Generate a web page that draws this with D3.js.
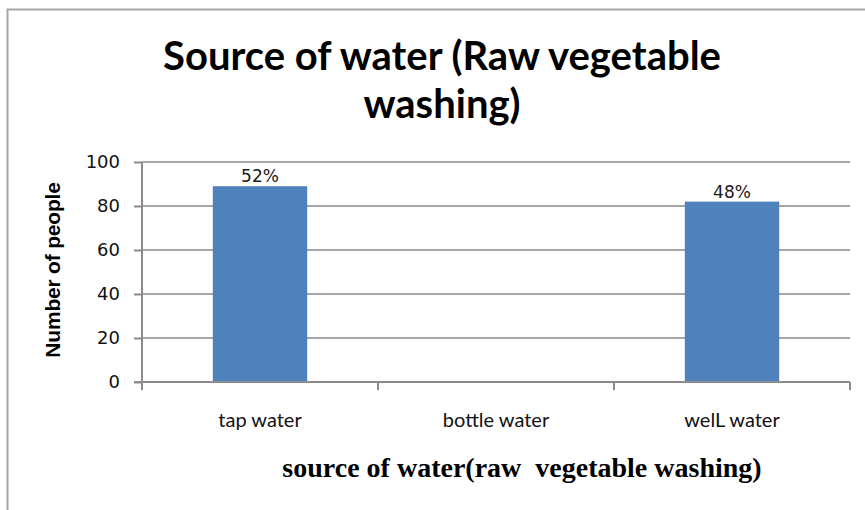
<!DOCTYPE html>
<html>
<head>
<meta charset="utf-8">
<script src="https://cdn.jsdelivr.net/npm/d3@7"></script>
<style>
  html, body { margin: 0; padding: 0; background: #fff; }
  svg { display: block; }
</style>
</head>
<body>
<svg id="chart" width="865" height="510"></svg>
<script>
// Survey results: water source used for washing raw vegetables
const categories = ["tap water", "bottle water", "welL water"];
const people = [89, 0, 82];
const percentLabels = ["52%", "", "48%"];
const yTicks = [0, 20, 40, 60, 80, 100];
const titleLines = ["Source of water (Raw vegetable", "washing)"];
const xTitle = "source of water(raw  vegetable washing)";
const yTitle = "Number of people";

const svg = d3.select("#chart");
const W = 865, H = 510;
const plot = { left: 142, right: 850, top: 162, bottom: 382 };

// chart frame
svg.append("rect")
  .attr("x", 7.5).attr("y", 9.5)
  .attr("width", W + 10).attr("height", H + 10)
  .attr("fill", "#fff")
  .attr("stroke", "#a6a6a6").attr("stroke-width", 2);

const x = d3.scaleBand()
  .domain(categories)
  .range([plot.left, plot.right])
  .paddingInner(0.6)
  .paddingOuter(0.3);

const y = d3.scaleLinear().domain([0, 100]).range([plot.bottom, plot.top]);

// horizontal gridlines
svg.append("g")
  .selectAll("line")
  .data(yTicks.filter(d => d > 0))
  .join("line")
  .attr("x1", plot.left).attr("x2", plot.right)
  .attr("y1", d => y(d)).attr("y2", d => y(d))
  .attr("stroke", "#a6a6a6").attr("stroke-width", 2);

const rows = categories.map((c, i) => ({ c, v: people[i], label: percentLabels[i] }));

// bars
svg.append("g")
  .selectAll("rect")
  .data(rows)
  .join("rect")
  .attr("x", d => x(d.c))
  .attr("width", x.bandwidth())
  .attr("y", d => y(d.v))
  .attr("height", d => y(0) - y(d.v))
  .attr("fill", "#4f81bd");

// value labels
svg.append("g")
  .selectAll("text")
  .data(rows.filter(d => d.label))
  .join("text")
  .attr("x", d => x(d.c) + x.bandwidth() / 2)
  .attr("y", d => y(d.v) - 4)
  .attr("text-anchor", "middle")
  .attr("font-family", "'DejaVu Sans', Verdana, sans-serif")
  .attr("font-size", 17)
  .attr("fill", "#1a1a1a")
  .text(d => d.label);

// y axis
const yAxis = d3.axisLeft(y).tickValues(yTicks).tickSize(8).tickPadding(14);
const gy = svg.append("g").attr("transform", `translate(${plot.left},0)`).call(yAxis);
gy.select(".domain").attr("stroke", "#8c8c8c").attr("stroke-width", 2).attr("d", `M0,${plot.top}V${plot.bottom}`);
gy.selectAll(".tick line").attr("stroke", "#8c8c8c").attr("stroke-width", 2);
gy.selectAll(".tick text")
  .attr("font-family", "'DejaVu Sans', Verdana, sans-serif")
  .attr("font-size", 18).attr("fill", "#111");

// x axis: line plus tick marks at category boundaries
const boundaries = d3.range(categories.length + 1).map(i => plot.left + i * (plot.right - plot.left) / categories.length);
svg.append("line")
  .attr("x1", plot.left - 8).attr("x2", plot.right)
  .attr("y1", plot.bottom).attr("y2", plot.bottom)
  .attr("stroke", "#8c8c8c").attr("stroke-width", 2);
svg.append("g").selectAll("line")
  .data(boundaries)
  .join("line")
  .attr("x1", d => d).attr("x2", d => d)
  .attr("y1", plot.bottom).attr("y2", plot.bottom + 8)
  .attr("stroke", "#8c8c8c").attr("stroke-width", 2);

svg.append("g").selectAll("text")
  .data(categories)
  .join("text")
  .attr("x", d => x(d) + x.bandwidth() / 2)
  .attr("y", 427)
  .attr("text-anchor", "middle")
  .attr("font-family", "Lato, 'Open Sans', sans-serif")
  .attr("font-size", 20)
  .attr("fill", "#111")
  .text(d => d);

// titles
svg.append("text")
  .attr("text-anchor", "middle")
  .attr("font-family", "Lato, 'Open Sans', sans-serif")
  .attr("font-weight", "bold")
  .attr("font-size", 40)
  .attr("fill", "#000")
  .selectAll("tspan")
  .data(titleLines)
  .join("tspan")
  .attr("x", 442)
  .attr("y", (d, i) => 70 + i * 48)
  .text(d => d);

svg.append("text")
  .attr("x", 522).attr("y", 477)
  .attr("text-anchor", "middle")
  .attr("font-family", "'Liberation Serif', 'Times New Roman', serif")
  .attr("font-weight", "bold")
  .attr("font-size", 28)
  .attr("fill", "#000")
  .style("white-space", "pre")
  .text(xTitle);

svg.append("text")
  .attr("transform", "translate(60,270) rotate(-90)")
  .attr("text-anchor", "middle")
  .attr("font-family", "'Liberation Sans', Arial, sans-serif")
  .attr("font-weight", "bold")
  .attr("font-size", 21)
  .attr("letter-spacing", -0.2)
  .attr("fill", "#000")
  .text(yTitle);
</script>
</body>
</html>
